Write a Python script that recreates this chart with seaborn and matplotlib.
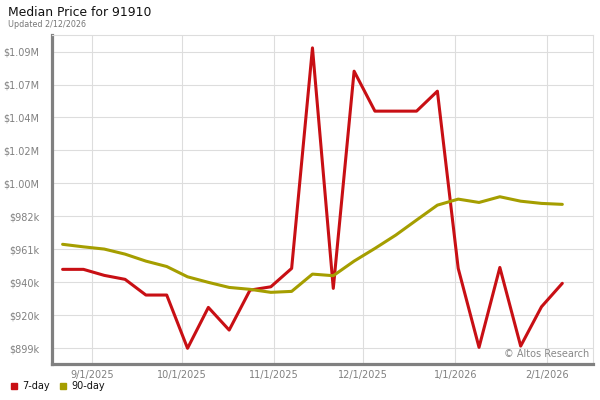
import pandas as pd
import matplotlib
matplotlib.use("Agg")
import matplotlib.pyplot as plt
import seaborn as sns
from matplotlib.lines import Line2D

dates = ["2025-08-22", "2025-08-29", "2025-09-05", "2025-09-12", "2025-09-19",
         "2025-09-26", "2025-10-03", "2025-10-10", "2025-10-17", "2025-10-24",
         "2025-10-31", "2025-11-07", "2025-11-14", "2025-11-21", "2025-11-28",
         "2025-12-05", "2025-12-12", "2025-12-19", "2025-12-26", "2026-01-02",
         "2026-01-09", "2026-01-16", "2026-01-23", "2026-01-30", "2026-02-06"]
seven_day = [948800, 948800, 945000, 942500, 932600, 932600, 899000, 924800,
             910500, 935700, 937800, 949400, 1088500, 936800, 1073800, 1048600,
             1048600, 1048600, 1061200, 949400, 899600, 950000, 900400, 925200,
             940000]
ninety_day = [964600, 963000, 961600, 958400, 954000, 950600, 944100, 940600,
              937400, 936200, 934300, 934900, 945800, 944800, 954000, 962000,
              970400, 979900, 989300, 993100, 991000, 994600, 991800, 990400,
              989800]
series_names = ["7-day", "90-day"]
colors = ["#c80f14", "#a59e00"]

ytick_vals = [899000, 919800, 940600, 961400, 982200, 1003000, 1023800,
              1044600, 1065400, 1086200]
ytick_labels = ["$899k", "$920k", "$940k", "$961k", "$982k", "$1.00M",
                "$1.02M", "$1.04M", "$1.07M", "$1.09M"]
xtick_dates = ["2025-09-01", "2025-10-01", "2025-11-01", "2025-12-01",
               "2026-01-01", "2026-02-01"]
xtick_labels = ["9/1/2025", "10/1/2025", "11/1/2025", "12/1/2025",
                "1/1/2026", "2/1/2026"]

df = pd.DataFrame({
    "date": pd.to_datetime(dates * 2),
    "price": seven_day + ninety_day,
    "series": [series_names[0]] * len(dates) + [series_names[1]] * len(dates),
})

sns.set_style("white")
plt.rcParams["font.family"] = ["DejaVu Sans"]

fig = plt.figure(figsize=(6, 4), dpi=100)
ax = fig.add_axes([0.087, 0.09, 0.901, 0.822])

sns.lineplot(data=df, x="date", y="price", hue="series", hue_order=series_names,
             palette=colors, linewidth=2.2, ax=ax, legend=False)

ax.set_ylim(889100, 1096500)
ax.set_xlim(pd.Timestamp("2025-08-18 12:00"), pd.Timestamp("2026-02-16 06:00"))
ax.set_yticks(ytick_vals)
ax.set_yticklabels(ytick_labels)
ax.set_xticks(pd.to_datetime(xtick_dates))
ax.set_xticklabels(xtick_labels)
ax.tick_params(axis="both", length=0, labelsize=7, labelcolor="#808080")
ax.tick_params(axis="y", pad=9)
ax.tick_params(axis="x", pad=4)
ax.grid(True, color="#dddddd", linewidth=0.8)
ax.set_axisbelow(True)
ax.set_xlabel("")
ax.set_ylabel("")

for side in ["top", "right"]:
    ax.spines[side].set_color("#dddddd")
    ax.spines[side].set_linewidth(0.8)
for side in ["left", "bottom"]:
    ax.spines[side].set_color("#808080")
    ax.spines[side].set_linewidth(2.3)

ax.text(0.994, 0.03, "\u00a9 Altos Research", transform=ax.transAxes,
        ha="right", va="center", fontsize=7, color="#888888")

fig.text(0.013, 0.968, "Median Price for 91910", fontsize=8.9, color="#111111",
         ha="left", va="center")
fig.text(0.013, 0.938, "Updated 2/12/2026", fontsize=5.8, color="#777777",
         ha="left", va="center")

handles = [Line2D([], [], marker="s", linestyle="none", markersize=5,
                  color=c) for c in colors]
fig.legend(handles, series_names, loc="lower left", bbox_to_anchor=(0.0, 0.0),
           ncol=2, frameon=False, fontsize=7, handletextpad=0.4,
           columnspacing=0.8, handlelength=1.0, labelcolor="#111111")

fig.savefig("out.png", dpi=100)
